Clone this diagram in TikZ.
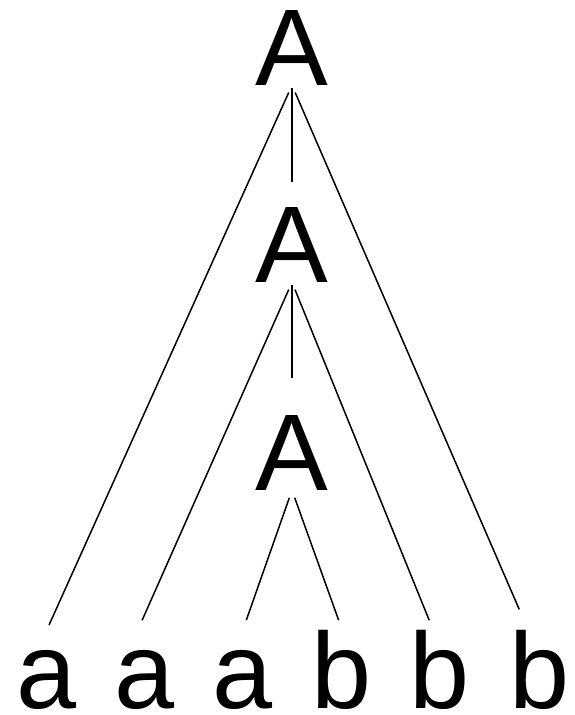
\documentclass[tikz,border=0pt]{standalone}
\usepackage{fontspec}
\setmainfont{Liberation Sans}

\begin{document}
\begin{tikzpicture}[x=1pt, y=-1pt]
    % 样式
    \tikzstyle{nonterm} = [inner sep=0pt, anchor=base, font=\fontsize{109}{110}\selectfont]
    \tikzstyle{leaf} = [inner sep=0pt, anchor=base, font=\fontsize{108}{110}\selectfont, execute at begin node=\vphantom{b}]
    \tikzstyle{branch} = [line width=1.5pt, shorten <=8pt, shorten >=10pt]
    \tikzstyle{stem} = [line width=2.6pt, shorten <=3pt]

    \useasboundingbox (0,0) rectangle (574,715);

    % 非终结符
    \node (top) [nonterm] at (292,85) {A};
    \node (mid) [nonterm] at (292,282) {A};
    \node (low) [nonterm] at (292,490) {A};

    % 叶子
    \node (a1) [leaf] at (47,708) {a};
    \node (a2) [leaf] at (145,708) {a};
    \node (a3) [leaf] at (243,708) {a};
    \node (b1) [leaf] at (342,708) {b};
    \node (b2) [leaf] at (440,708) {b};
    \node (b3) [leaf] at (540,708) {b};

    % 连线
    \draw [stem, shorten >=25pt] (top.south) -- (mid.north);
    \draw [stem, shorten >=37pt] (mid.south) -- (low.north);
    \draw [branch, shorten >=5pt] (top.south) -- (a1.north);
    \draw [branch, shorten >=22pt] (top.south) -- ([xshift=-12pt]b3.north);
    \draw [branch] (mid.south) -- ([xshift=-7pt]a2.north);
    \draw [branch] (mid.south) -- ([xshift=-7pt]b2.north);
    \draw [branch] (low.south) -- (a3.north);
    \draw [branch] (low.south) -- (b1.north);
\end{tikzpicture}
\end{document}
